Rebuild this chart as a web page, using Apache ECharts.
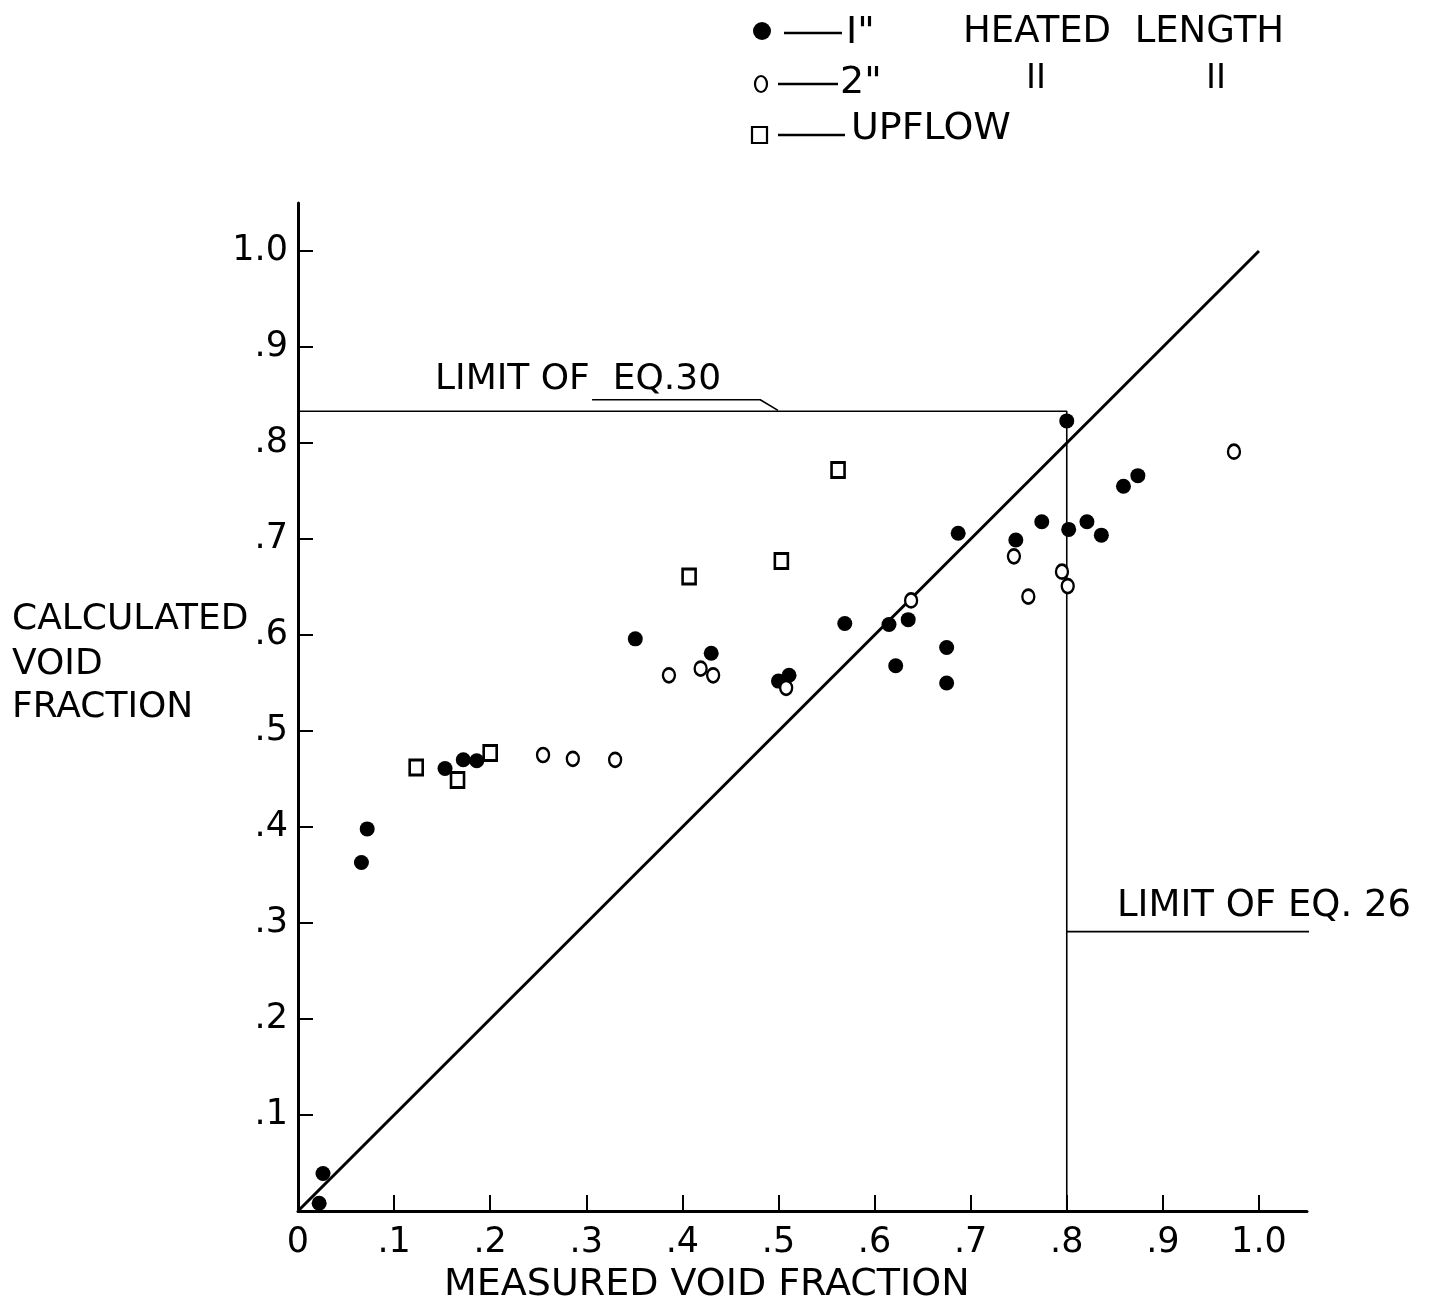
<!DOCTYPE html>
<html>
<head>
<meta charset="utf-8">
<script src="https://cdn.jsdelivr.net/npm/echarts@6/dist/echarts.min.js"></script>
<style>
html,body{margin:0;padding:0;background:#fff;}
#chart{width:1433px;height:1307px;}
</style>
</head>
<body>
<div id="chart"></div>
<script>
// ---- data (measured, calculated) ----
const heated1in = [
  [0.022, 0.008], [0.026, 0.039], [0.066, 0.363], [0.072, 0.398],
  [0.153, 0.461], [0.172, 0.470], [0.186, 0.469],
  [0.351, 0.596], [0.430, 0.581], [0.500, 0.552], [0.511, 0.558],
  [0.569, 0.612], [0.615, 0.611], [0.635, 0.616], [0.622, 0.568],
  [0.675, 0.587], [0.675, 0.550], [0.687, 0.706],
  [0.747, 0.699], [0.774, 0.718], [0.802, 0.710], [0.821, 0.718],
  [0.836, 0.704], [0.859, 0.755], [0.874, 0.766], [0.800, 0.823]
];
const heated2in = [
  [0.255, 0.475], [0.286, 0.471], [0.330, 0.470],
  [0.386, 0.558], [0.419, 0.565], [0.432, 0.558], [0.508, 0.545], [0.638, 0.636],
  [0.745, 0.682], [0.760, 0.640], [0.795, 0.666], [0.801, 0.651], [0.974, 0.791]
];
const upflow = [
  [0.123, 0.462], [0.166, 0.449], [0.200, 0.477],
  [0.407, 0.661], [0.503, 0.677], [0.562, 0.772]
];
const equalityLine = [[0, 0], [1, 1]];
const limitEq30Value = 0.833;
const limitEq26Value = 0.8;
const limitLines = [[0, limitEq30Value], [limitEq26Value, limitEq30Value], [limitEq26Value, 0]];
const leaderEq30 = [[0.306, 0.845], [0.481, 0.845], [0.4995, 0.834]];
const leaderEq26 = [[0.8, 0.291], [1.157, 0.291]];
const xTickLabels = [0, 0.1, 0.2, 0.3, 0.4, 0.5, 0.6, 0.7, 0.8, 0.9, 1.0];
const yTickLabels = [0.1, 0.2, 0.3, 0.4, 0.5, 0.6, 0.7, 0.8, 0.9, 1.0];
const tickMarks = [0.1, 0.2, 0.3, 0.4, 0.5, 0.6, 0.7, 0.8, 0.9, 1.0];

const FONT = 'DejaVu Sans';
function fmt(v) {
  if (Math.abs(v) < 1e-9) return '0';
  if (Math.abs(v - 1) < 1e-9) return '1.0';
  return '.' + Math.round(v * 10);
}

const chart = echarts.init(document.getElementById('chart'), null, {renderer: 'canvas'});
const txt = (x, y, s, size, align) => ({
  type: 'text', left: x, top: y,
  style: {text: s, fontFamily: FONT, fontSize: size, fill: '#000', textAlign: align || 'left'}
});

chart.setOption({
  animation: false,
  backgroundColor: '#fff',
  grid: {left: 298, top: 203, width: 1009, height: 1008, containLabel: false},
  xAxis: {
    type: 'value', min: 0, max: 1.05, interval: 0.1,
    splitLine: {show: false},
    axisLine: {lineStyle: {color: '#000', width: 3}},
    axisTick: {inside: true, length: 16, lineStyle: {color: '#000', width: 2}, customValues: tickMarks},
    axisLabel: {customValues: xTickLabels, formatter: fmt, color: '#000', fontFamily: FONT, fontSize: 35, margin: 14}
  },
  yAxis: {
    type: 'value', min: 0, max: 1.05, interval: 0.1,
    splitLine: {show: false},
    axisLine: {lineStyle: {color: '#000', width: 3}},
    axisTick: {inside: true, length: 15, lineStyle: {color: '#000', width: 2}, customValues: tickMarks},
    axisLabel: {customValues: yTickLabels, formatter: fmt, color: '#000', fontFamily: FONT, fontSize: 35, margin: 10}
  },
  series: [
    {type: 'line', data: equalityLine, symbol: 'none', lineStyle: {color: '#000', width: 3}, z: 2},
    {type: 'line', data: limitLines, symbol: 'none', lineStyle: {color: '#000', width: 1.6}, z: 2},
    {type: 'line', data: leaderEq30, symbol: 'none', lineStyle: {color: '#000', width: 1.6}, z: 2},
    {type: 'line', data: leaderEq26, symbol: 'none', clip: false, lineStyle: {color: '#000', width: 1.6}, z: 2},
    {name: '1"', type: 'scatter', data: heated1in, symbol: 'circle', symbolSize: 15,
     itemStyle: {color: '#000', opacity: 1}, z: 5},
    {name: '2"', type: 'scatter', data: heated2in, symbol: 'circle', symbolSize: [12, 14],
     itemStyle: {color: '#fff', borderColor: '#000', borderWidth: 2.5, opacity: 1}, z: 5},
    {name: 'UPFLOW', type: 'scatter', data: upflow, symbol: 'rect', symbolSize: [13, 15],
     itemStyle: {color: '#fff', borderColor: '#000', borderWidth: 2.8, opacity: 1}, z: 5}
  ],
  graphic: [
    // legend
    {type: 'circle', shape: {cx: 762, cy: 31, r: 9}, style: {fill: '#000'}},
    {type: 'line', shape: {x1: 784, y1: 33, x2: 842, y2: 33}, style: {stroke: '#000', lineWidth: 2.5}},
    txt(846, 14, 'I"', 38),
    txt(963, 14, 'HEATED  LENGTH', 37),
    {type: 'ellipse', shape: {cx: 761, cy: 84, rx: 6, ry: 8}, style: {fill: '#fff', stroke: '#000', lineWidth: 2.2}},
    {type: 'line', shape: {x1: 778, y1: 84, x2: 838, y2: 84}, style: {stroke: '#000', lineWidth: 2.5}},
    txt(840, 64, '2"', 38),
    txt(1026, 62, 'II', 34),
    txt(1206, 62, 'II', 34),
    {type: 'rect', shape: {x: 752, y: 127, width: 15, height: 16}, style: {fill: '#fff', stroke: '#000', lineWidth: 2.2}},
    {type: 'line', shape: {x1: 778, y1: 135, x2: 845, y2: 135}, style: {stroke: '#000', lineWidth: 2.5}},
    txt(851, 110, 'UPFLOW', 38),
    // axis titles
    txt(12, 602, 'CALCULATED', 36),
    txt(12, 647, 'VOID', 36),
    txt(12, 690, 'FRACTION', 36),
    txt(444, 1266, 'MEASURED VOID FRACTION', 38),
    // annotations
    txt(435, 362, 'LIMIT OF  EQ.30', 36),
    txt(1117, 888, 'LIMIT OF EQ. 26', 37)
  ]
});
</script>
</body>
</html>
